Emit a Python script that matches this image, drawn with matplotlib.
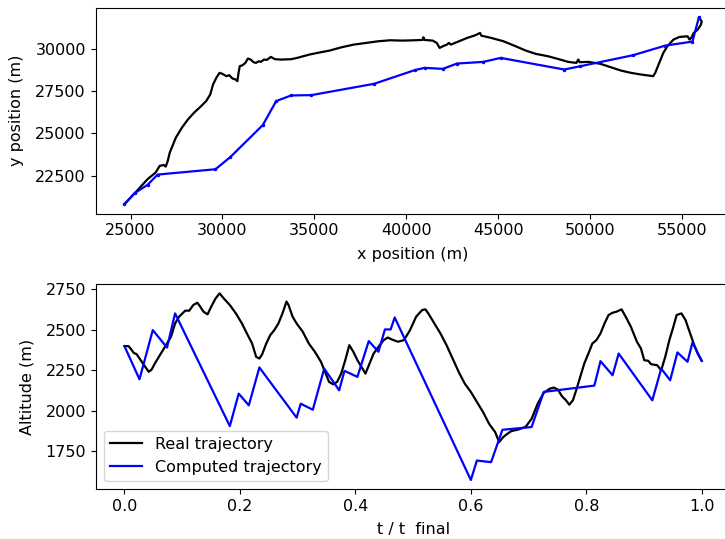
import matplotlib
matplotlib.use("Agg")
import matplotlib.pyplot as plt

# ---- Top panel: horizontal trajectory ----
real_x = [24670, 25264, 25594, 25924, 26364, 26584, 26804, 26914, 27024, 27134, 27244, 27464,
          27794, 28124, 28454, 28784, 29114, 29334, 29488, 29664, 29840, 29994, 30214, 30368,
          30544, 30720, 30808, 30874, 30940, 31094, 31248, 31380, 31534, 31688, 31820, 31974,
          32084, 32260, 32414, 32634, 32854, 33184, 33734, 34064, 34724, 35164, 35824, 36484,
          37144, 37804, 38464, 39124, 39784, 40444, 40884, 40928, 40994, 41434, 41654, 41808,
          41984, 42204, 42314, 42424, 42864, 43304, 43744, 44008, 44074, 44624, 45284, 45944,
          46494, 47044, 47704, 48364, 48804, 49244, 49354, 49420, 49904, 50564, 51224, 51664,
          52214, 52764, 53424, 53534, 53754, 53974, 54194, 54524, 54854, 55294, 55404, 55514,
          55624, 55844, 56020, 56064, 55954]
real_y = [20808, 21496, 21889, 22282, 22674, 23067, 23126, 23028, 23362, 23853, 24147, 24737,
          25326, 25817, 26210, 26543, 26897, 27290, 27879, 28272, 28566, 28507, 28370, 28429,
          28232, 28173, 28075, 28566, 28959, 29018, 29155, 29411, 29352, 29195, 29155, 29254,
          29214, 29352, 29332, 29509, 29372, 29352, 29372, 29450, 29646, 29745, 29882, 30079,
          30236, 30334, 30432, 30491, 30471, 30491, 30511, 30668, 30511, 30471, 30334, 30039,
          30137, 30236, 30334, 30236, 30432, 30628, 30786, 30923, 30766, 30628, 30432, 30137,
          29882, 29686, 29548, 29352, 29214, 29155, 29352, 29195, 29214, 29097, 28861, 28704,
          28566, 28468, 28370, 28566, 29155, 29745, 30137, 30530, 30687, 30727, 30530, 30668,
          30923, 31119, 31414, 31610, 31768]

comp_x = [24670, 25220, 25924, 26474, 29620, 30434, 32194, 32920, 33734, 34834, 38244, 40444,
          40994, 41984, 42754, 44184, 45130, 48584, 49464, 52324, 54084, 55558, 55910]
comp_y = [20808, 21457, 21948, 22556, 22871, 23597, 25483, 26897, 27231, 27250, 27918, 28723,
          28861, 28802, 29116, 29214, 29450, 28763, 28959, 29607, 30177, 30412, 31846]

# ---- Bottom panel: altitude vs normalised time ----
real_t = [0.0, 0.0070, 0.0105, 0.0161, 0.0211, 0.0281, 0.0351, 0.0421, 0.0470, 0.0526, 0.0596,
          0.0667, 0.0737, 0.0807, 0.0877, 0.0947, 0.1004, 0.1053, 0.1123, 0.1193, 0.1263, 0.1312,
          0.1368, 0.1439, 0.1509, 0.1579, 0.1649, 0.1719, 0.1825, 0.1930, 0.2035, 0.2105, 0.2211,
          0.2281, 0.2337, 0.2386, 0.2456, 0.2526, 0.2596, 0.2667, 0.2737, 0.2807, 0.2842, 0.2912,
          0.2982, 0.3088, 0.3193, 0.3298, 0.3404, 0.3474, 0.3544, 0.3614, 0.3684, 0.3754, 0.3825,
          0.3895, 0.3965, 0.4035, 0.4105, 0.4175, 0.4246, 0.4316, 0.4400, 0.4491, 0.4561, 0.4632,
          0.4737, 0.4842, 0.4947, 0.5053, 0.5158, 0.5214, 0.5263, 0.5368, 0.5474, 0.5579, 0.5684,
          0.5789, 0.5895, 0.6000, 0.6105, 0.6211, 0.6316, 0.6421, 0.6491, 0.6561, 0.6632, 0.6702,
          0.6807, 0.6947, 0.7053, 0.7158, 0.7263, 0.7368, 0.7439, 0.7509, 0.7579, 0.7649, 0.7705,
          0.7768, 0.7825, 0.7895, 0.7965, 0.8049, 0.8105, 0.8175, 0.8246, 0.8316, 0.8386, 0.8456,
          0.8526, 0.8611, 0.8667, 0.8772, 0.8877, 0.8947, 0.9004, 0.9074, 0.9123, 0.9228, 0.9298,
          0.9368, 0.9439, 0.9509, 0.9565, 0.9649, 0.9719, 0.9789, 0.9860, 0.9930, 1.0]
real_alt = [2399, 2399, 2384, 2357, 2349, 2312, 2275, 2240, 2254, 2291, 2333, 2374, 2415, 2457,
            2539, 2581, 2601, 2618, 2618, 2653, 2667, 2643, 2612, 2595, 2647, 2694, 2725, 2694,
            2653, 2601, 2539, 2488, 2415, 2333, 2322, 2349, 2415, 2467, 2498, 2539, 2601, 2674,
            2653, 2581, 2539, 2488, 2415, 2364, 2302, 2240, 2178, 2163, 2178, 2229, 2312, 2405,
            2364, 2312, 2271, 2229, 2291, 2353, 2395, 2436, 2452, 2440, 2426, 2436, 2498, 2581,
            2622, 2626, 2601, 2539, 2477, 2405, 2322, 2240, 2167, 2116, 2054, 1992, 1919, 1868,
            1806, 1837, 1857, 1874, 1882, 1899, 1950, 2043, 2110, 2136, 2143, 2130, 2089, 2064,
            2037, 2064, 2126, 2209, 2291, 2364, 2415, 2436, 2477, 2539, 2591, 2605, 2612, 2626,
            2591, 2519, 2426, 2384, 2312, 2308, 2287, 2281, 2250, 2333, 2436, 2519, 2591, 2601,
            2560, 2488, 2415, 2353, 2308]

comp_t = [0.0, 0.0260, 0.0491, 0.0737, 0.0877, 0.1825, 0.1979, 0.2154, 0.2337, 0.2982, 0.3053,
          0.3263, 0.3460, 0.3719, 0.3811, 0.4035, 0.4232, 0.4400, 0.4512, 0.4611, 0.4681, 0.6000,
          0.6105, 0.6351, 0.6547, 0.7053, 0.7263, 0.8140, 0.8246, 0.8456, 0.8561, 0.9144, 0.9298,
          0.9453, 0.9579, 0.9754, 0.9839, 1.0]
comp_alt = [2399, 2194, 2498, 2390, 2601, 1905, 2105, 2033, 2267, 1957, 2043, 2006, 2260, 2126,
            2246, 2209, 2430, 2364, 2502, 2502, 2576, 1572, 1692, 1682, 1882, 1899, 2116, 2155,
            2306, 2219, 2353, 2064, 2260, 2188, 2360, 2302, 2421, 2308]

FS = 11.5
plt.rcParams['font.family'] = ['DejaVu Sans']
plt.rcParams['font.size'] = FS

fig = plt.figure(figsize=(7.25, 5.39), dpi=100)
W, H = 725.0, 539.0
left = 95.6 / W
width = 635.0 / W
ax1 = fig.add_axes([left, 1 - 213.5 / H, width, (213.5 - 8) / H])
ax2 = fig.add_axes([left, 1 - 489.3 / H, width, (489.3 - 284) / H])

ax1.plot(real_x, real_y, color='black', lw=1.6)
ax1.plot(comp_x, comp_y, color='blue', lw=1.6, marker='.', ms=3)
ax1.set_xlabel('x position (m)', fontsize=FS, labelpad=6)
ax1.set_ylabel('y position (m)', fontsize=FS, labelpad=8)
ax1.set_xticks([25000, 30000, 35000, 40000, 45000, 50000, 55000])
ax1.set_yticks([22500, 25000, 27500, 30000])

ax2.plot(real_t, real_alt, color='black', lw=1.6, label='Real trajectory')
ax2.plot(comp_t, comp_alt, color='blue', lw=1.6, label='Computed trajectory')
ax2.set_xlabel('t / t  final', fontsize=FS, labelpad=6)
ax2.set_ylabel('Altitude (m)', fontsize=FS, labelpad=8)
ax2.set_yticks([1750, 2000, 2250, 2500, 2750])
ax2.legend(loc='lower left', fontsize=FS)

for ax in (ax1, ax2):
    ax.tick_params(labelsize=FS)

fig.savefig('out.png', dpi=100)
